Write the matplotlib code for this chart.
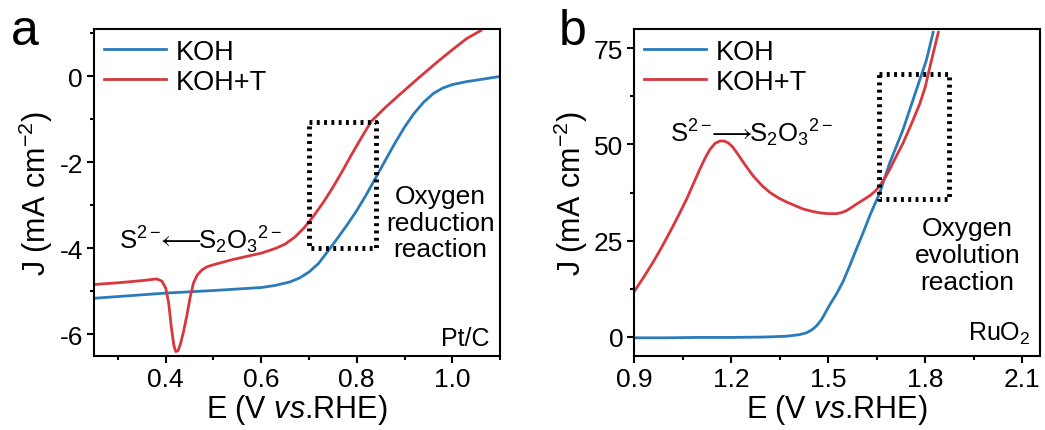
import matplotlib
matplotlib.use("Agg")
import matplotlib.pyplot as plt
from matplotlib.ticker import MultipleLocator

plt.rcParams['font.family'] = ['Liberation Sans', 'DejaVu Sans']
plt.rcParams['mathtext.fontset'] = 'custom'
plt.rcParams['mathtext.rm'] = 'Liberation Sans'
plt.rcParams['mathtext.it'] = 'Liberation Sans:italic'
plt.rcParams['mathtext.fallback'] = 'stixsans'
plt.rcParams['axes.unicode_minus'] = False

BLUE = '#2b7bba'
RED = '#d9363e'

# panel a: ORR on Pt/C
orr_koh_e = [0.25, 0.30, 0.40, 0.50, 0.60, 0.63, 0.66, 0.68, 0.70, 0.72, 0.74, 0.76, 0.78,
             0.80, 0.82, 0.84, 0.86, 0.88, 0.90, 0.92, 0.94, 0.96, 0.98, 1.00, 1.03, 1.06, 1.10]
orr_koh_j = [-5.16, -5.12, -5.04, -4.98, -4.91, -4.86, -4.78, -4.69, -4.55, -4.35, -4.06, -3.76, -3.45,
             -3.12, -2.75, -2.35, -1.95, -1.55, -1.18, -0.86, -0.60, -0.40, -0.27, -0.19, -0.12, -0.07, 0.00]
orr_t_e = [0.25, 0.30, 0.35, 0.381, 0.392, 0.400, 0.406, 0.412, 0.417, 0.421, 0.426, 0.431,
           0.437, 0.444, 0.451, 0.458, 0.466, 0.476, 0.486, 0.50, 0.54, 0.60, 0.63, 0.65, 0.67,
           0.69, 0.71, 0.73, 0.75, 0.77, 0.79, 0.81, 0.83, 0.86, 0.89, 0.93, 0.97, 1.00, 1.03, 1.06]
orr_t_j = [-4.84, -4.80, -4.75, -4.71, -4.76, -4.92, -5.25, -5.85, -6.25, -6.40, -6.38, -6.22,
           -5.95, -5.58, -5.15, -4.81, -4.62, -4.50, -4.43, -4.38, -4.26, -4.11, -4.00, -3.90, -3.74,
           -3.52, -3.24, -2.93, -2.58, -2.20, -1.80, -1.42, -1.05, -0.72, -0.42, -0.03, 0.35, 0.62, 0.88, 1.07]

# panel b: OER on RuO2
oer_koh_e = [0.90, 1.00, 1.10, 1.20, 1.30, 1.37, 1.41, 1.433, 1.450, 1.464, 1.48, 1.505, 1.525,
             1.546, 1.567, 1.588, 1.609, 1.629, 1.66, 1.691, 1.732, 1.773, 1.804, 1.825]
oer_koh_j = [-0.3, -0.3, -0.2, -0.2, -0.1, 0.1, 0.5, 1.0, 1.8, 2.8, 4.5, 8.3, 11.0,
             14.3, 18.5, 22.9, 27.2, 31.5, 37.5, 45.3, 53.9, 64.2, 71.9, 79.2]
oer_t_e = [0.90, 0.93, 0.959, 0.985, 1.01, 1.036, 1.062, 1.083, 1.103, 1.12, 1.134, 1.15, 1.165,
           1.178, 1.191, 1.204, 1.217, 1.242, 1.268, 1.294, 1.32, 1.346, 1.372, 1.40, 1.423,
           1.45, 1.475, 1.50, 1.526, 1.542, 1.557, 1.572, 1.588, 1.609, 1.629, 1.645, 1.66,
           1.675, 1.691, 1.71, 1.732, 1.758, 1.784, 1.80, 1.815, 1.841]
oer_t_j = [11.8, 15.6, 19.5, 23.3, 27.2, 31.4, 35.8, 39.8, 43.6, 46.6, 48.7, 50.3, 50.9,
           50.9, 50.4, 49.4, 47.9, 44.8, 41.8, 39.4, 37.5, 36.1, 35.0, 34.0, 33.2,
           32.6, 32.2, 32.0, 32.0, 32.3, 32.8, 33.6, 34.5, 35.6, 36.7, 37.8, 39.3,
           41.2, 43.6, 46.8, 50.4, 55.4, 60.7, 64.8, 70.2, 79.2]

fig = plt.figure(figsize=(10.45, 4.31), dpi=100)
ax1 = fig.add_axes([0.090, 0.172, 0.3885, 0.758])
ax2 = fig.add_axes([0.607, 0.172, 0.388, 0.758])

for ax in (ax1, ax2):
    for s in ax.spines.values():
        s.set_linewidth(1.5)
    ax.tick_params(which='major', direction='out', length=5, width=1.5, labelsize=19, pad=3)
    ax.tick_params(which='minor', direction='out', length=3, width=1.5)

# --- panel a ---
ax1.plot(orr_koh_e, orr_koh_j, color=BLUE, lw=2.0, label='KOH')
ax1.plot(orr_t_e, orr_t_j, color=RED, lw=2.0, label='KOH+T')
ax1.plot([0.70, 0.84, 0.84, 0.70, 0.70], [-1.05, -1.05, -3.98, -3.98, -1.05],
         color='black', lw=3.5, linestyle=(0, (0.6, 0.9)))
ax1.set_xlim(0.25, 1.1)
ax1.set_ylim(-6.5, 1.1)
ax1.xaxis.set_major_locator(MultipleLocator(0.2))
ax1.xaxis.set_minor_locator(MultipleLocator(0.1))
ax1.yaxis.set_major_locator(MultipleLocator(2))
ax1.yaxis.set_minor_locator(MultipleLocator(1))
ax1.set_xlabel('E (V $\\mathit{vs}$.RHE)', fontsize=22, labelpad=1)
ax1.set_ylabel('J (mA cm$^{-2}$)', fontsize=22, labelpad=3)
ax1.legend(loc='upper left', frameon=False, fontsize=19.5, handlelength=2.3,
           handletextpad=0.35, borderaxespad=0.05, borderpad=0.3, labelspacing=0.15)
ax1.text(0.302, -3.99, 'S$^{2-}$$\\!\\!\\longleftarrow\\!\\!$S$_2$O$_3$$^{2-}$', fontsize=18.5,
         va='baseline', ha='left')
ax1.text(0.975, -3.4, 'Oxygen\nreduction\nreaction', fontsize=19, ha='center', va='center',
         linespacing=1.15)
ax1.text(1.077, -6.08, 'Pt/C', fontsize=18, ha='right', va='center')
fig.text(0.024, 0.925, 'a', fontsize=36, ha='center', va='center')

# --- panel b ---
ax2.plot(oer_koh_e, oer_koh_j, color=BLUE, lw=2.0, label='KOH')
ax2.plot(oer_t_e, oer_t_j, color=RED, lw=2.0, label='KOH+T')
ax2.plot([1.658, 1.874, 1.874, 1.658, 1.658], [68.3, 68.3, 35.8, 35.8, 68.3],
         color='black', lw=3.5, linestyle=(0, (0.6, 0.9)))
ax2.set_xlim(0.9, 2.155)
ax2.set_ylim(-5, 80)
ax2.xaxis.set_major_locator(MultipleLocator(0.3))
ax2.xaxis.set_minor_locator(MultipleLocator(0.15))
ax2.yaxis.set_major_locator(MultipleLocator(25))
ax2.yaxis.set_minor_locator(MultipleLocator(12.5))
ax2.set_xlabel('E (V $\\mathit{vs}$.RHE)', fontsize=22, labelpad=1)
ax2.set_ylabel('J (mA cm$^{-2}$)', fontsize=22, labelpad=3)
ax2.legend(loc='upper left', frameon=False, fontsize=19.5, handlelength=2.3,
           handletextpad=0.35, borderaxespad=0.05, borderpad=0.3, labelspacing=0.15)
ax2.text(1.01, 50.8, 'S$^{2-}$$\\!\\!\\longrightarrow\\!\\!$S$_2$O$_3$$^{2-}$', fontsize=18.5,
         va='baseline', ha='left')
ax2.text(1.932, 21.2, 'Oxygen\nevolution\nreaction', fontsize=19, ha='center', va='center',
         linespacing=1.15)
ax2.text(2.125, 1.0, 'RuO$_2$', fontsize=18, ha='right', va='center')
fig.text(0.548, 0.925, 'b', fontsize=36, ha='center', va='center')

fig.savefig('out.png', dpi=100)
